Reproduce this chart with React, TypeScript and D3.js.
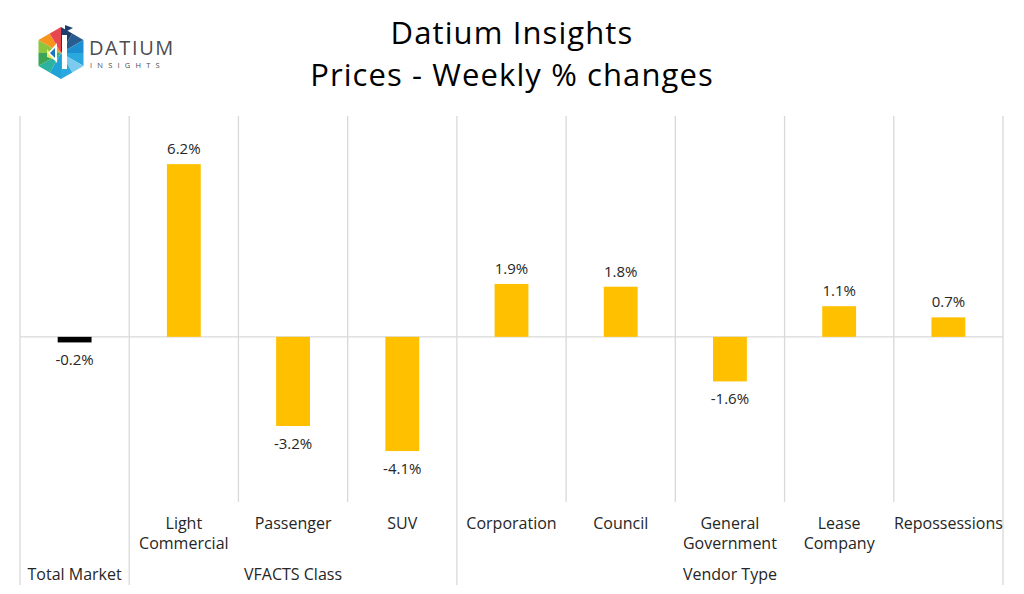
import React from 'react';
import * as d3 from 'd3';

const categories = ['', 'Light Commercial', 'Passenger', 'SUV', 'Corporation', 'Council', 'General Government', 'Lease Company', 'Repossessions'];
const values = [-0.2, 6.2, -3.2, -4.1, 1.9, 1.8, -1.6, 1.1, 0.7];
const groupNames = ['Total Market', 'VFACTS Class', 'Vendor Type'];
const groupSizes = [1, 3, 5];
const yDomain = [-6, 8];

const W = 1024;
const H = 594;
const FONT = "'Century Gothic', 'Open Sans', sans-serif";

const Logo = () => {
  // hexagon logo, rough approximation of the Datium mark
  const cx = 61, cy = 53, r = 26;
  const pts = d3.range(6).map(i => {
    const a = (Math.PI / 3) * i - Math.PI / 2;
    return [cx + r * Math.cos(a), cy + r * Math.sin(a)];
  });
  const colors = [
    ['#1f3c6b', '#2a5d8f'], // top -> top right
    ['#1b8fcf', '#2aa8e0'], // right top
    ['#7ccbef', '#29a9e0'], // right bottom
    ['#1fa2d6', '#2bb3a0'], // bottom
    ['#3aa655', '#8cc63f'], // left bottom
    ['#f7941d', '#e8474e'], // left top
  ];
  const tris: JSX.Element[] = [];
  pts.forEach((p, i) => {
    const q = pts[(i + 1) % 6];
    const m = [(p[0] + q[0]) / 2, (p[1] + q[1]) / 2];
    tris.push(<path key={`a${i}`} d={`M${cx},${cy}L${p[0]},${p[1]}L${m[0]},${m[1]}Z`} fill={colors[i][0]} />);
    tris.push(<path key={`b${i}`} d={`M${cx},${cy}L${m[0]},${m[1]}L${q[0]},${q[1]}Z`} fill={colors[i][1]} />);
  });
  return (
    <g>
      {tris}
      <path d={`M${cx - 14},${cy - 4}L${cx - 14},${cy + 4}L${cx - 3},${cy + 8}Z`} fill="#f5e663" />
      <path d={`M${cx - 4},${cy - 10}L${cx - 13},${cy}L${cx - 4},${cy + 10}Z`} fill="#fff" />
      <path d={`M${cx - 6},${cy - 5}L${cx - 11},${cy}L${cx - 6},${cy + 5}Z`} fill="#1b75bc" />
      <rect x={cx + 1} y={cy - 18} width={5} height={34} fill="#fff" />
      <path d={`M${cx + 4},${cy - 28}L${cx + 12},${cy - 25}L${cx + 4},${cy - 21}Z`} fill="#1c3f6e" />
      <text x={89} y={55} fontFamily={FONT} fontSize={20} fill="#4d4d4f" letterSpacing={1.6}>DATIUM</text>
      <text x={90} y={68} fontFamily={FONT} fontSize={7.5} fill="#4d4d4f" letterSpacing={5.2}>INSIGHTS</text>
    </g>
  );
};

export default function App() {
  const x = d3.scaleBand<number>().domain(d3.range(categories.length)).range([20, 1003]).padding(0);
  const y = d3.scaleLinear().domain(yDomain).range([504, 114]);
  const bw = x.bandwidth() * 0.31;
  const y0 = y(0);

  const bounds = d3.range(categories.length + 1).map(i => 20 + i * x.step());
  const groupEdges = [0, ...d3.cumsum(groupSizes)];

  return (
    <svg width={W} height={H} style={{ position: 'absolute', left: 0, top: 0, background: '#fff' }} fontFamily={FONT}>
      <rect width={W} height={H} fill="#fff" />
      <Logo />
      <text x={512} y={44} textAnchor="middle" fontSize={31} letterSpacing={1.1} fill="#000">Datium Insights</text>
      <text x={512} y={86} textAnchor="middle" fontSize={31} letterSpacing={1.1} fill="#000">Prices - Weekly % changes</text>

      {bounds.map((bx, i) => (
        <line key={i} x1={bx} x2={bx} y1={116} y2={groupEdges.includes(i) ? 585 : 502} stroke="#d9d9d9" strokeWidth={1.3} />
      ))}
      <line x1={20} x2={1003} y1={y0} y2={y0} stroke="#d9d9d9" strokeWidth={1.3} />

      {values.map((v, i) => {
        const cx = (x(i) as number) + x.bandwidth() / 2;
        return (
          <g key={i}>
            <rect x={cx - bw / 2} y={Math.min(y(v), y0)} width={bw} height={Math.abs(y(v) - y0)} fill={i === 0 ? '#000' : '#ffc000'} />
            <text x={cx} y={v >= 0 ? y(v) - 10 : y(v) + 23} textAnchor="middle" fontSize={15} fill="#262626">
              {v.toFixed(1)}%
            </text>
            {categories[i].split(' ').filter(s => s).map((w, j) => (
              <text key={j} x={cx} y={529 + j * 20} textAnchor="middle" fontSize={16} fill="#262626">{w}</text>
            ))}
          </g>
        );
      })}

      {groupNames.map((g, i) => {
        const gx = (bounds[groupEdges[i]] + bounds[groupEdges[i + 1]]) / 2;
        return <text key={g} x={gx} y={580} textAnchor="middle" fontSize={16} fill="#262626">{g}</text>;
      })}
    </svg>
  );
}
